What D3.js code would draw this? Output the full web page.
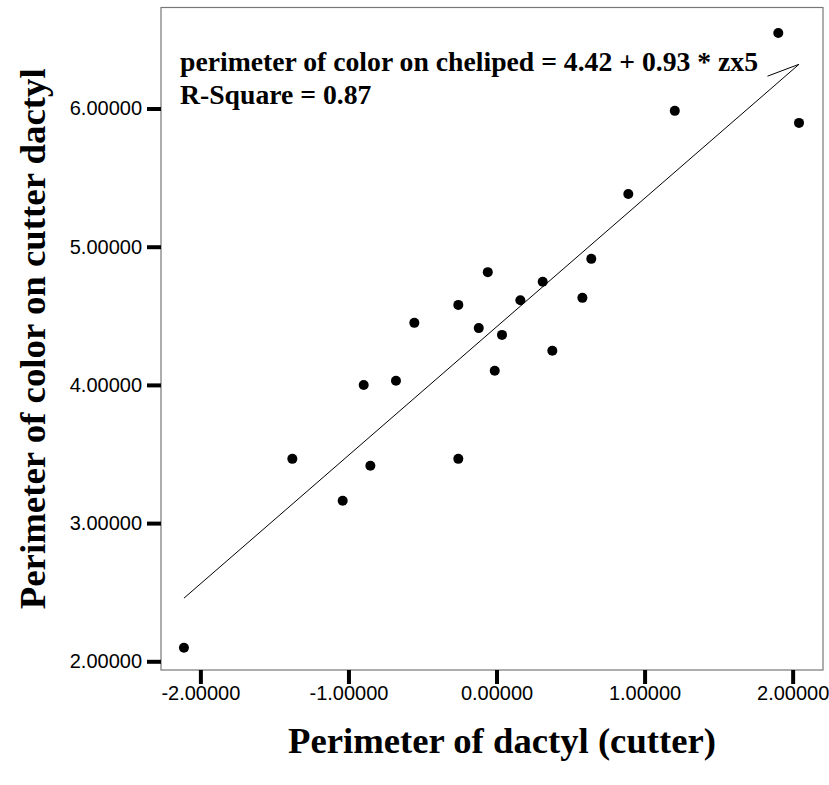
<!DOCTYPE html>
<html>
<head>
<meta charset="utf-8">
<script src="https://cdn.jsdelivr.net/npm/d3@7"></script>
<style>
  body { margin: 0; background: #fff; }
  svg { display: block; }
</style>
</head>
<body>
<svg id="chart" width="829" height="785"></svg>
<script>
// perimeter of dactyl (cutter), standardised
const dactyl = [-2.111, -1.379, -1.039, -0.897, -0.852, -0.679, -0.555, -0.258, -0.258, -0.120, -0.059, -0.012,
  0.037, 0.161, 0.312, 0.377, 0.580, 0.640, 0.890, 1.204, 1.903, 2.043];
// perimeter of color on cutter dactyl
const colour = [2.098, 3.465, 3.162, 3.999, 3.415, 4.030, 4.449, 4.579, 3.465, 4.411, 4.816, 4.102,
  4.362, 4.613, 4.746, 4.247, 4.630, 4.912, 5.382, 5.983, 6.547, 5.896];

const xTicks = [-2, -1, 0, 1, 2];
const yTicks = [2, 3, 4, 5, 6];
const intercept = 4.42;
const slope = 0.93;
const rSquare = 0.87;
// the fit line in the original ends with a little hook back to this point
const fitHook = [1.83, 6.234];

const svg = d3.select('#chart');
const box = { left: 161, right: 823, top: 7.5, bottom: 670 };

const x = d3.scaleLinear().domain([-2.266, 2.205]).range([box.left, box.right]);
const y = d3.scaleLinear().domain([1.937, 6.731]).range([box.bottom, box.top]);

// plain hyphen for negatives, like the original
const fmt = d => d3.format('.5f')(d).replace('\u2212', '-');

// frame
svg.append('rect')
  .attr('x', box.left)
  .attr('y', box.top)
  .attr('width', box.right - box.left)
  .attr('height', box.bottom - box.top)
  .attr('fill', 'none')
  .attr('stroke', '#777')
  .attr('stroke-width', 1.2);

const xAxis = svg.append('g')
  .attr('transform', `translate(0,${box.bottom})`)
  .call(d3.axisBottom(x).tickValues(xTicks).tickFormat(fmt).tickSize(14).tickPadding(2));

const yAxis = svg.append('g')
  .attr('transform', `translate(${box.left},0)`)
  .call(d3.axisLeft(y).tickValues(yTicks).tickFormat(fmt).tickSize(14).tickPadding(5));

[xAxis, yAxis].forEach(g => {
  g.select('.domain').remove();
  g.selectAll('.tick line').attr('stroke', '#000').attr('stroke-width', 4);
  g.selectAll('.tick text')
    .attr('fill', '#000')
    .style('font-family', '"Liberation Sans", Arial, sans-serif')
    .style('font-size', '20px');
});

// regression line
const x0 = d3.min(dactyl);
const x1 = d3.max(dactyl);
const fitPts = [[x0, intercept + slope * x0], [x1, intercept + slope * x1], fitHook];
svg.append('path')
  .datum(fitPts)
  .attr('fill', 'none')
  .attr('stroke', '#000')
  .attr('stroke-width', 1)
  .attr('d', d3.line().x(d => x(d[0])).y(d => y(d[1])));

// points
svg.append('g')
  .selectAll('circle')
  .data(dactyl.map((d, i) => [d, colour[i]]))
  .enter()
  .append('circle')
  .attr('cx', d => x(d[0]))
  .attr('cy', d => y(d[1]))
  .attr('r', 5)
  .attr('fill', '#000');

const serif = '"Liberation Serif", "Times New Roman", serif';

// equation text
const note = svg.append('g')
  .style('font-family', serif)
  .style('font-weight', 'bold')
  .style('font-size', '27.7px');
note.append('text').attr('x', 180).attr('y', 71)
  .text(`perimeter of color on cheliped = ${intercept} + ${slope} * zx5`);
note.append('text').attr('x', 180).attr('y', 104)
  .text(`R-Square = ${rSquare}`);

// axis titles
svg.append('text')
  .attr('x', 502)
  .attr('y', 753)
  .attr('text-anchor', 'middle')
  .attr('textLength', 428)
  .attr('lengthAdjust', 'spacingAndGlyphs')
  .style('font-family', serif)
  .style('font-weight', 'bold')
  .style('font-size', '35px')
  .text('Perimeter of dactyl (cutter)');

svg.append('text')
  .attr('transform', `translate(45,${(box.top + box.bottom) / 2}) rotate(-90)`)
  .attr('text-anchor', 'middle')
  .attr('textLength', 541)
  .attr('lengthAdjust', 'spacingAndGlyphs')
  .style('font-family', serif)
  .style('font-weight', 'bold')
  .style('font-size', '35px')
  .text('Perimeter of color on cutter dactyl');
</script>
</body>
</html>
